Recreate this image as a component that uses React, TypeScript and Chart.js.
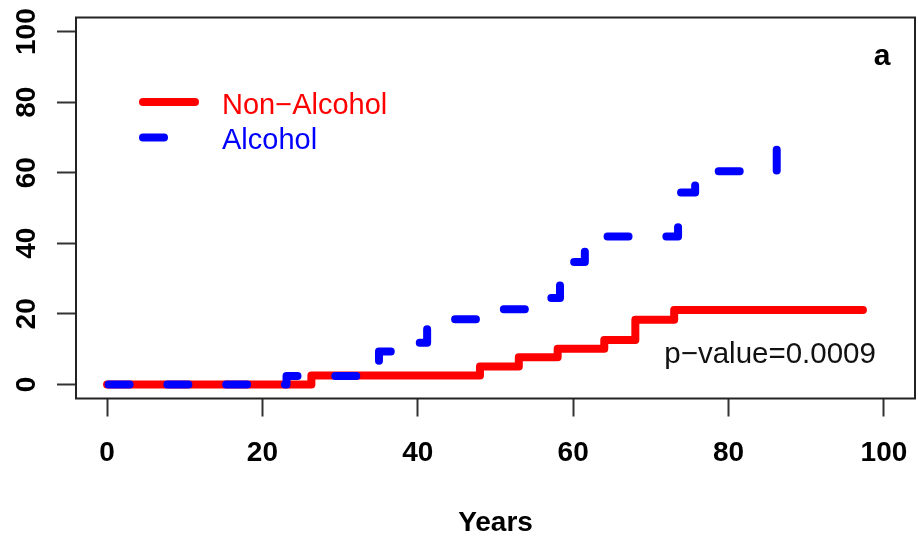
import React, { useEffect, useRef } from "react";
import { Chart, registerables } from "chart.js";

Chart.register(...registerables);

// ---- data ----
const nonAlcoholYears = [0, 26.3, 48, 53, 58, 64, 68, 73, 97.3];
const nonAlcoholPct = [0, 2.5, 5.1, 7.7, 10.1, 12.6, 18.3, 21.1, 21.1];
const alcoholYears = [0, 23.1, 35, 38, 41.2, 44.8, 51, 55, 58.3, 61.5, 73.5, 75.7, 86.2];
const alcoholPct = [0, 2.4, 9.3, 11.8, 16.8, 18.5, 21.3, 24.5, 34.7, 41.9, 54.4, 60.4, 66.5];
const xTicks = [0, 20, 40, 60, 80, 100];
const yTicks = [0, 20, 40, 60, 80, 100];
const seriesNames = ["Non\u2212Alcohol", "Alcohol"];
const seriesColors = ["#FF0000", "#0000FF"];
const pValueText = "p\u2212value=0.0009";
const panelLabel = "a";
const xTitle = "Years";

const FONT = '"Liberation Sans", Arial, Helvetica, sans-serif';
const BLUE_DASH = [21, 37.8];

const overlay = {
  id: "overlay",
  afterDraw(chart: any) {
    const { ctx, chartArea: ca, scales } = chart;
    const ys = scales.y;
    const xs = scales.x;
    ctx.save();
    // box
    ctx.strokeStyle = "#222";
    ctx.lineWidth = 2;
    ctx.strokeRect(ca.left, ca.top, ca.right - ca.left, ca.bottom - ca.top);

    // rotated y tick labels
    ctx.fillStyle = "#000";
    ctx.font = `bold 28px ${FONT}`;
    ctx.textAlign = "center";
    ctx.textBaseline = "alphabetic";
    for (const v of yTicks) {
      const py = ys.getPixelForValue(v);
      ctx.save();
      ctx.translate(ca.left - 41, py);
      ctx.rotate(-Math.PI / 2);
      ctx.fillText(String(v), 0, 0);
      ctx.restore();
    }

    // legend
    const lx0 = ca.left + 67;
    const lx1 = ca.left + 119;
    const rows = [ca.top + 84.5, ca.top + 120];
    ctx.lineCap = "round";
    ctx.lineWidth = 8;
    for (let i = 0; i < 2; i++) {
      ctx.strokeStyle = seriesColors[i];
      ctx.setLineDash(i === 1 ? BLUE_DASH : []);
      ctx.beginPath();
      ctx.moveTo(lx0, rows[i]);
      ctx.lineTo(lx1, rows[i]);
      ctx.stroke();
    }
    ctx.setLineDash([]);
    ctx.font = `29px ${FONT}`;
    ctx.textAlign = "left";
    ctx.textBaseline = "alphabetic";
    for (let i = 0; i < 2; i++) {
      ctx.fillStyle = seriesColors[i];
      ctx.fillText(seriesNames[i], ca.left + 146, rows[i] + 11.5);
    }

    // p-value
    ctx.font = `29.5px ${FONT}`;
    ctx.fillStyle = "#111";
    ctx.textAlign = "center";
    ctx.fillText(pValueText, xs.getPixelForValue(85.35), ys.getPixelForValue(6));

    // panel label
    ctx.font = `bold 30px ${FONT}`;
    ctx.fillStyle = "#000";
    ctx.fillText(panelLabel, ca.right - 33, ca.top + 47.5);
    ctx.restore();
  },
};

export default function App() {
  const ref = useRef<HTMLCanvasElement | null>(null);
  useEffect(() => {
    if (!ref.current) return;
    const chart = new Chart(ref.current, {
      type: "line",
      data: {
        datasets: [
          {
            label: seriesNames[1],
            data: alcoholYears.map((t, i) => ({ x: t, y: alcoholPct[i] })),
            borderColor: seriesColors[1],
            borderWidth: 8,
            borderDash: BLUE_DASH,
            borderDashOffset: -1.5,
            borderCapStyle: "round",
            borderJoinStyle: "round",
            stepped: "before",
            pointRadius: 0,
            fill: false,
            order: 0,
          },
          {
            label: seriesNames[0],
            data: nonAlcoholYears.map((t, i) => ({ x: t, y: nonAlcoholPct[i] })),
            borderColor: seriesColors[0],
            borderWidth: 8,
            borderCapStyle: "round",
            borderJoinStyle: "round",
            stepped: "before",
            pointRadius: 0,
            fill: false,
            order: 1,
          },
        ],
      },
      options: {
        animation: false,
        responsive: true,
        maintainAspectRatio: false,
        layout: { padding: { top: 17.5, right: 3, left: 0, bottom: 0 } },
        plugins: { legend: { display: false }, tooltip: { enabled: false } },
        scales: {
          x: {
            type: "linear",
            min: -4,
            max: 104,
            afterBuildTicks: (s: any) => {
              s.ticks = xTicks.map((v) => ({ value: v }));
            },
            afterFit: (s: any) => {
              s.height = 143.5;
              s.paddingLeft = 0;
              s.paddingRight = 0;
            },
            grid: { drawOnChartArea: false, drawTicks: true, tickLength: 18, tickColor: "#333", tickWidth: 2 },
            border: { display: false },
            ticks: {
              font: { family: FONT, size: 28, weight: "bold" },
              color: "#000",
              padding: 20,
              maxRotation: 0,
              autoSkip: false,
            },
            title: {
              display: true,
              text: xTitle,
              color: "#000",
              font: { family: FONT, size: 28, weight: "bold" },
              padding: { top: 0, bottom: 2 },
            },
          },
          y: {
            type: "linear",
            min: -4,
            max: 104,
            afterBuildTicks: (s: any) => {
              s.ticks = yTicks.map((v) => ({ value: v }));
            },
            afterFit: (s: any) => {
              s.width = 76;
              s.paddingTop = 0;
              s.paddingBottom = 0;
            },
            grid: { drawOnChartArea: false, drawTicks: true, tickLength: 19, tickColor: "#333", tickWidth: 2 },
            border: { display: false },
            ticks: { display: false },
          },
        },
      },
      plugins: [overlay],
    } as any);
    return () => chart.destroy();
  }, []);
  return (
    <div style={{ position: "absolute", left: 0, top: 0, width: 918, height: 542 }}>
      <canvas ref={ref} />
    </div>
  );
}
